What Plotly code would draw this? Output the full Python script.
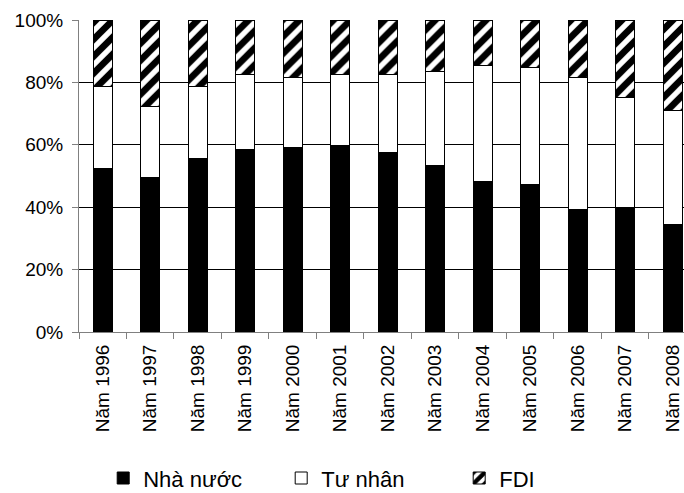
import plotly.graph_objects as go

years = ["Năm 1996", "Năm 1997", "Năm 1998", "Năm 1999", "Năm 2000", "Năm 2001", "Năm 2002",
         "Năm 2003", "Năm 2004", "Năm 2005", "Năm 2006", "Năm 2007", "Năm 2008"]
nha_nuoc = [52.5, 49.5, 55.5, 58.4, 59.2, 59.7, 57.4, 53.3, 48.3, 47.2, 39.2, 39.8, 34.4]
tu_nhan_cum = [78.6, 72.2, 78.6, 82.4, 81.7, 82.4, 82.4, 83.4, 85.3, 84.7, 81.6, 75.1, 70.9]
tu_nhan = [round(t - n, 1) for t, n in zip(tu_nhan_cum, nha_nuoc)]
fdi = [round(100 - t, 1) for t in tu_nhan_cum]

font = "Liberation Sans, Arial, sans-serif"
fig = go.Figure()
# invisible helper trace on overlay axis that carries the 20-80% gridlines
fig.add_trace(go.Scatter(x=[years[0]], y=[0], yaxis="y2", showlegend=False,
                         mode="markers", marker=dict(opacity=0), hoverinfo="skip"))
fig.add_trace(go.Bar(x=years, y=nha_nuoc, name="Nhà nước",
                     marker=dict(color="black", line=dict(color="black", width=1))))
fig.add_trace(go.Bar(x=years, y=tu_nhan, name="Tư nhân",
                     marker=dict(color="white", line=dict(color="black", width=1))))
fig.add_trace(go.Bar(x=years, y=fdi, name="FDI",
                     marker=dict(color="white", line=dict(color="black", width=1),
                                 pattern=dict(shape="/", fgcolor="black", bgcolor="white",
                                              size=12, solidity=0.55, fgopacity=1))))

fig.update_layout(
    width=684, height=493,
    barmode="stack", bargap=0.6,
    plot_bgcolor="white", paper_bgcolor="white",
    margin=dict(l=79, r=0, t=20, b=161, autoexpand=False),
    font=dict(family=font, size=19, color="black"),
    showlegend=True,
    legend=dict(orientation="h", x=0.04, xanchor="left",
                yref="container", y=0.03, yanchor="middle",
                font=dict(size=22), entrywidth=133, entrywidthmode="pixels",
                traceorder="normal"),
)
fig.update_xaxes(range=[-0.5, 12.24], tickangle=-90, showline=True, linecolor="#808080",
                 linewidth=1, ticks="outside", tickson="boundaries", ticklen=6,
                 tickcolor="#808080", showgrid=False, automargin=False,
                 ticklabelstandoff=4)
fig.update_yaxes(range=[0, 100], tickvals=[0, 20, 40, 60, 80, 100],
                 ticktext=["0%", "20%", "40%", "60%", "80%", "100%"],
                 showline=True, linecolor="#808080", linewidth=1, ticks="outside",
                 ticklen=6, tickcolor="#808080", showgrid=False, zeroline=False,
                 automargin=False, ticklabelstandoff=5)
fig.update_layout(yaxis2=dict(overlaying="y", range=[0, 100], tickvals=[20, 40, 60, 80],
                              showticklabels=False, showgrid=True, gridcolor="black",
                              gridwidth=1, zeroline=False, showline=False,
                              automargin=False))
fig.write_html("out.html", config={"displayModeBar": False},
               post_script="document.body.style.margin='0';document.body.style.overflow='hidden';")
